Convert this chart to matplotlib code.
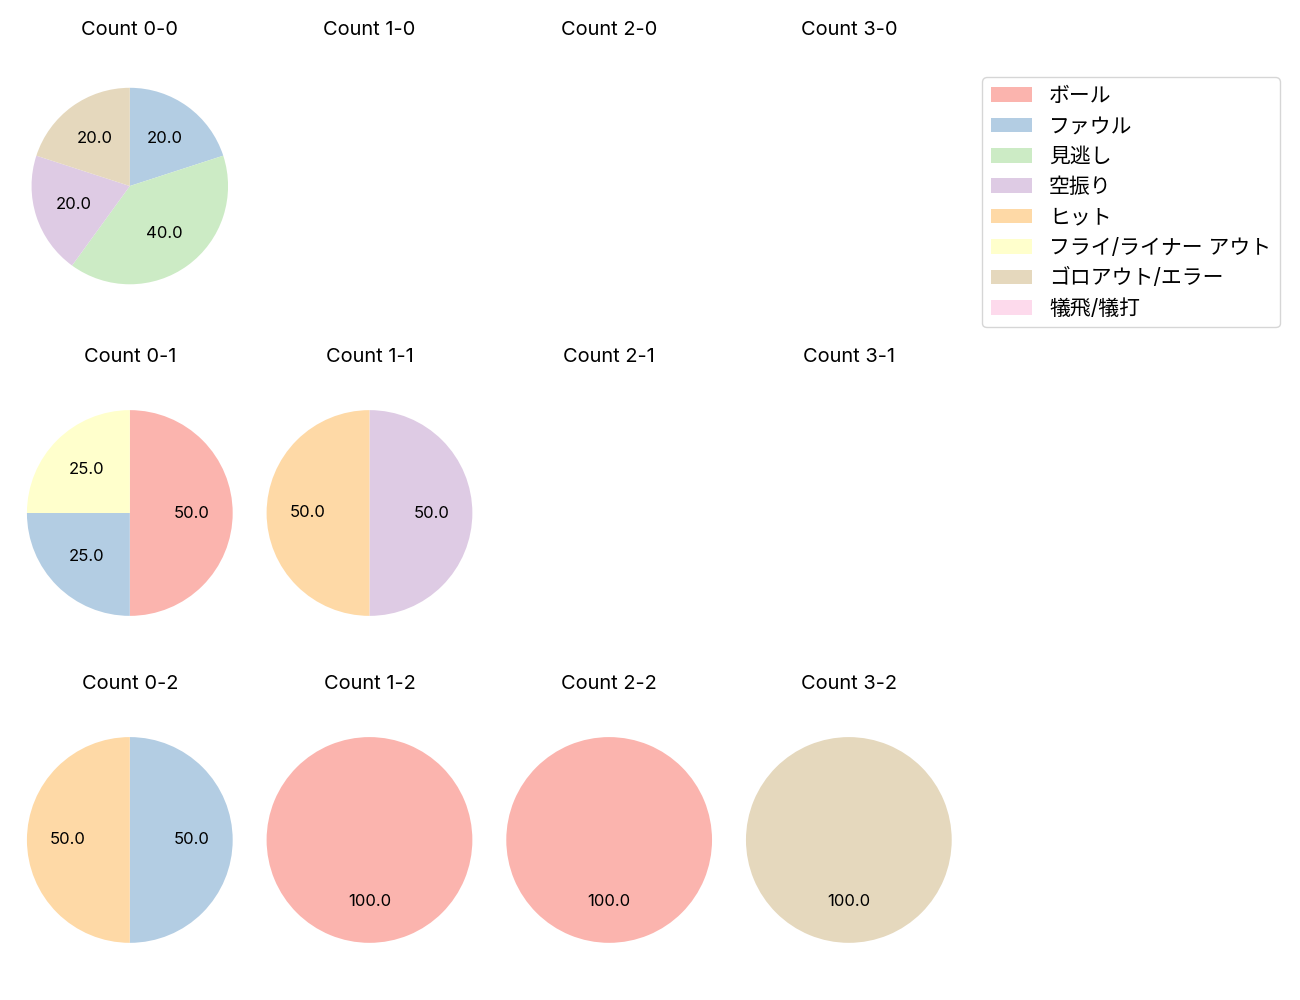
import matplotlib
matplotlib.use('Agg')
import matplotlib.pyplot as plt
from matplotlib.patches import Patch

plt.rcParams['font.family'] = ['Inter', 'Noto Sans CJK JP', 'DejaVu Sans']

# categories (legend order) and colours
categories = ['ボール', 'ファウル', '見逃し', '空振り', 'ヒット',
              'フライ/ライナー アウト', 'ゴロアウト/エラー', '犠飛/犠打']
colors = plt.get_cmap('Pastel1').colors[:8]

balls = [0, 1, 2, 3]
strikes = [0, 1, 2]

# percentages per count, in category order (None = no data)
count_0_0 = [0, 20, 40, 20, 0, 0, 20, 0]
count_1_0 = None
count_2_0 = None
count_3_0 = None
count_0_1 = [50, 25, 0, 0, 0, 25, 0, 0]
count_1_1 = [0, 0, 0, 50, 50, 0, 0, 0]
count_2_1 = None
count_3_1 = None
count_0_2 = [0, 50, 0, 0, 50, 0, 0, 0]
count_1_2 = [100, 0, 0, 0, 0, 0, 0, 0]
count_2_2 = [100, 0, 0, 0, 0, 0, 0, 0]
count_3_2 = [0, 0, 0, 0, 0, 0, 100, 0]

data = {
    (0, 0): count_0_0, (1, 0): count_1_0, (2, 0): count_2_0, (3, 0): count_3_0,
    (0, 1): count_0_1, (1, 1): count_1_1, (2, 1): count_2_1, (3, 1): count_3_1,
    (0, 2): count_0_2, (1, 2): count_1_2, (2, 2): count_2_2, (3, 2): count_3_2,
}

fig, axes = plt.subplots(3, 4, figsize=(13, 10), dpi=100)
fig.subplots_adjust(left=0.0128, right=0.740, top=0.958, bottom=0.016,
                    wspace=0.059, hspace=0.135)

for s in strikes:
    for b in balls:
        ax = axes[s, b]
        ax.set_title(f'Count {b}-{s}', fontsize=14.4, pad=5)
        vals = data[(b, s)]
        if vals is None:
            ax.axis('off')
            continue
        v = [x for x in vals if x > 0]
        c = [colors[i] for i, x in enumerate(vals) if x > 0]
        r = 0.955 if (b, s) == (0, 0) else 1.0
        ax.pie(v, colors=c, autopct='%.1f', startangle=90,
               counterclock=False, radius=r, textprops={'fontsize': 12})
        ax.set_xlim(-1.1, 1.1)
        ax.set_ylim(-1.1, 1.1)
        ax.set_aspect('equal', adjustable='datalim')

handles = [Patch(facecolor=colors[i], label=categories[i]) for i in range(8)]
fig.legend(handles=handles, loc='upper left', bbox_to_anchor=(0.7477, 0.933),
           fontsize=15, labelspacing=0.5)

fig.savefig('out.png')
